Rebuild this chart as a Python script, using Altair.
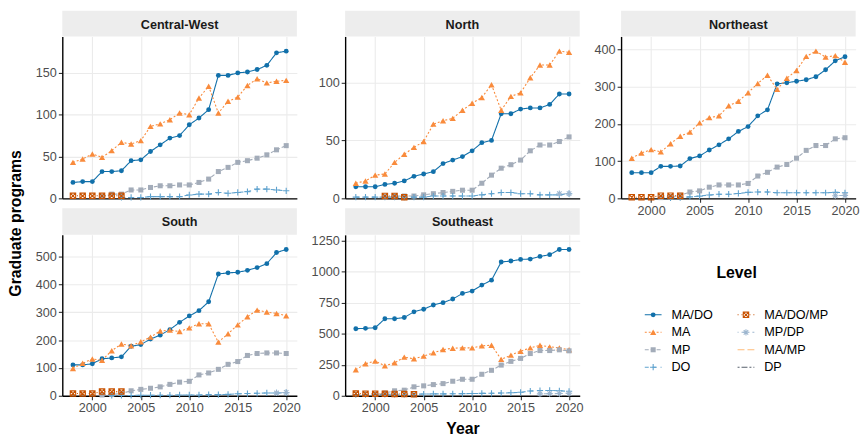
import altair as alt
import pandas as pd

years = list(range(1998, 2021))
levels = ["MA/DO", "MA", "MP", "DO", "MA/DO/MP", "MP/DP", "MA/MP", "DP"]
regions = ["Central-West", "North", "Northeast", "South", "Southeast"]

N_ = None
# Central-West
cw_mado = [19, 20, 20, 32, 32, 33, 45, 46, 56, 64, 72, 75, 88, 96, 106, 147, 147, 150, 151, 154, 159, 174, 176]
cw_ma = [43, 47, 53, 49, 57, 67, 65, 69, 86, 89, 94, 102, 100, 120, 134, 102, 116, 121, 135, 143, 138, 140, 141]
cw_mp = [N_, N_, N_, 2, 5, 5, 10, 10, 13, 15, 15, 16, 16, 19, 23, 32, 37, 43, 45, 48, 52, 58, 63]
cw_do = [N_, N_, N_, N_, N_, 1, 1, 1, 2, 2, 2, 2, 4, 5, 5, 7, 6, 7, 8, 11, 11, 10, 9]
cw_madomp = [3, 3, 3, 3, 3, 3] + [N_] * 17
cw_mpdp = [N_] * 23
# North
n_mado = [10, 10, 10, 12, 13, 15, 19, 21, 23, 30, 33, 36, 41, 48, 50, 73, 73, 77, 78, 78, 81, 90, 90]
n_ma = [13, 15, 20, 21, 31, 38, 44, 49, 64, 67, 69, 76, 82, 87, 98, 76, 88, 91, 104, 115, 115, 127, 126]
n_mp = [N_, N_, N_, 1, 2, 2, 2, 3, 4, 5, 6, 7, 7, 13, 20, 26, 29, 33, 41, 46, 46, 49, 53]
n_do = [1, 1, 1, 1, 1, 1, 1, 1, 2, 2, 2, 2, 2, 3, 4, 5, 5, 4, 4, 3, 3, 3, 4]
n_madomp = [N_, N_, N_, 2, 2, 1] + [N_] * 17
n_mpdp = [N_] * 21 + [4, 4]
# Northeast
ne_mado = [69, 69, 69, 86, 86, 87, 107, 114, 130, 144, 160, 180, 193, 222, 238, 308, 311, 315, 319, 327, 346, 370, 381]
ne_ma = [108, 122, 131, 125, 147, 167, 178, 203, 217, 222, 249, 261, 284, 309, 331, 293, 323, 344, 382, 396, 380, 384, 366]
ne_mp = [N_, N_, N_, 2, 4, 8, 17, 20, 30, 36, 36, 36, 40, 60, 70, 84, 91, 108, 129, 142, 142, 160, 163]
ne_do = [N_, N_, N_, N_, 1, 2, 4, 6, 9, 11, 11, 13, 16, 17, 17, 15, 15, 15, 15, 15, 15, 16, 15]
ne_madomp = [3, 3, 3, 7, 7, 7] + [N_] * 17
ne_mpdp = [N_] * 21 + [7, 8]
# South
s_mado = [111, 111, 115, 133, 136, 140, 178, 184, 204, 218, 238, 264, 287, 306, 338, 438, 442, 444, 451, 461, 475, 515, 526]
s_ma = [98, 117, 132, 128, 162, 186, 180, 194, 211, 233, 236, 231, 244, 259, 259, 193, 223, 255, 284, 308, 301, 296, 288]
s_mp = [N_, N_, N_, 3, 5, 8, 18, 23, 27, 32, 41, 49, 52, 75, 82, 95, 113, 123, 145, 152, 154, 154, 152]
s_do = [N_, N_, N_, N_, 1, 1, 1, 2, 2, 2, 2, 3, 3, 3, 4, 4, 5, 7, 8, 9, 10, 10, 11]
s_madomp = [8, 8, 8, 15, 15, 15] + [N_] * 17
s_mpdp = [N_] * 21 + [10, 12]
# Southeast
se_mado = [540, 543, 548, 620, 620, 630, 676, 697, 731, 750, 779, 824, 843, 891, 931, 1077, 1085, 1098, 1101, 1122, 1136, 1178, 1178]
se_ma = [210, 258, 279, 242, 266, 311, 298, 319, 346, 372, 383, 386, 386, 402, 407, 293, 327, 359, 386, 407, 394, 386, 370]
se_mp = [N_, N_, 10, 22, 40, 45, 72, 80, 90, 98, 117, 133, 133, 173, 205, 247, 277, 301, 340, 364, 364, 370, 362]
se_do = [10, 10, 10, 11, 12, 12, 13, 14, 15, 15, 16, 17, 18, 19, 20, 22, 24, 28, 38, 42, 43, 40, 36]
se_madomp = [18, 17, 17, 16, 15, 14, 12] + [N_] * 16
se_mpdp = [N_] * 19 + [15, 17, 18, 20]

y_ticks = {
    "Central-West": [0, 50, 100, 150],
    "North": [0, 50, 100],
    "Northeast": [0, 100, 200, 300, 400],
    "South": [0, 100, 200, 300, 400, 500],
    "Southeast": [0, 250, 500, 750, 1000, 1250],
}
x_ticks = [2000, 2005, 2010, 2015, 2020]

series = {
    "Central-West": [cw_mado, cw_ma, cw_mp, cw_do, cw_madomp, cw_mpdp],
    "North": [n_mado, n_ma, n_mp, n_do, n_madomp, n_mpdp],
    "Northeast": [ne_mado, ne_ma, ne_mp, ne_do, ne_madomp, ne_mpdp],
    "South": [s_mado, s_ma, s_mp, s_do, s_madomp, s_mpdp],
    "Southeast": [se_mado, se_ma, se_mp, se_do, se_madomp, se_mpdp],
}

rows = []
for reg, lists in series.items():
    for lvl, vals in zip(levels, lists):
        for yr, v in zip(years, vals):
            if v is not None:
                rows.append({"region": reg, "level": lvl, "year": yr, "value": v})
df = pd.DataFrame(rows)

colors = ["#1170aa", "#f98b3c", "#a3acb9", "#5fa2ce", "#c85200", "#9db6cf", "#ffbc79", "#57606c"]
dashes = [[1, 0], [2, 2], [4, 2], [4, 4], [1, 3], [1, 3, 4, 3], [7, 3], [2, 2, 6, 2]]
color_scale = alt.Scale(domain=levels, range=colors)
dash_scale = alt.Scale(domain=levels, range=dashes)

PLUS = "M-1,0L1,0M0,-1L0,1"
SQX = "M-1,-1L1,-1L1,1L-1,1Z M-1,-1L1,1M-1,1L1,-1"
STAR = "M-1,0L1,0M0,-1L0,1M-0.72,-0.72L0.72,0.72M-0.72,0.72L0.72,-0.72"
markers = [
    ("MA/DO", "circle", True, 24),
    ("MA", "triangle-up", True, 40),
    ("MP", "square", True, 26),
    ("DO", PLUS, False, 40),
    ("MA/DO/MP", SQX, False, 30),
    ("MP/DP", STAR, False, 40),
]
mcolor = dict(zip(levels, colors))

W = 237.6
FONT = "Liberation Sans"


def panel(region, h_strip, h_plot, xlabels, xtitle):
    d = df[df.region == region]
    ymax = d["value"].max() * 1.1
    xax = alt.Axis(values=x_ticks, format="d", labels=xlabels, ticks=xlabels,
                   title=xtitle if xtitle else None)
    x = alt.X("year:Q", scale=alt.Scale(domain=[1996.9, 2021.1], nice=False, zero=False), axis=xax)
    y = alt.Y("value:Q", scale=alt.Scale(domain=[0, ymax], nice=False),
              axis=alt.Axis(values=y_ticks[region], format="d", title=None))
    base = alt.Chart(d)
    sdf = pd.DataFrame({"region": [region]})
    strip_rect = alt.Chart(sdf).mark_rect(color="#ededed").encode(
        x=alt.value(0), x2=alt.value(W), y=alt.value(-h_strip), y2=alt.value(0))
    strip_text = alt.Chart(sdf).mark_text(
        fontWeight="bold", fontSize=12.8, color="#1a1a1a", font=FONT, baseline="middle").encode(
        x=alt.value(W / 2), y=alt.value(-h_strip / 2 + 1), text="region:N")
    lines = base.mark_line(strokeWidth=1.1).encode(
        x=x, y=y,
        color=alt.Color("level:N", scale=color_scale, legend=None),
        strokeDash=alt.StrokeDash("level:N", scale=dash_scale, legend=None),
    )
    layers = [lines]
    for lvl, shp, filled, size in markers:
        if (d.level == lvl).any():
            layers.append(
                base.transform_filter(alt.datum.level == lvl)
                .mark_point(shape=shp, filled=filled, color=mcolor[lvl], size=size,
                            strokeWidth=1.1, opacity=1)
                .encode(x=x, y=y)
            )
    return alt.layer(*layers, strip_rect, strip_text).properties(width=W, height=h_plot)


# Manual legend
LW, LH = 240, 163
leg = pd.DataFrame({"level": levels})
leg["col"] = [i // 4 for i in range(len(levels))]
leg["row"] = [i % 4 for i in range(len(levels))]
lx_scale = alt.Scale(domain=[0, LW], nice=False, zero=False)
ly_scale = alt.Scale(domain=[0, LH], nice=False, zero=False, reverse=True)
lbase = alt.Chart(leg).transform_calculate(
    x0="datum.col * 94 + 24", x1="datum.col * 94 + 41", xm="datum.col * 94 + 32.5",
    xt="datum.col * 94 + 51", yy="datum.row * 17.7 + 81")
leg_layers = [
    alt.Chart(pd.DataFrame({"t": ["Level"]})).mark_text(
        fontSize=16, fontWeight="bold", font=FONT, color="black").encode(
        x=alt.value(117), y=alt.value(39), text="t:N"),
    lbase.mark_rule(strokeWidth=1.1).encode(
        x=alt.X("x0:Q", scale=lx_scale, axis=None), x2="x1:Q",
        y=alt.Y("yy:Q", scale=ly_scale, axis=None),
        color=alt.Color("level:N", scale=color_scale, legend=None),
        strokeDash=alt.StrokeDash("level:N", scale=dash_scale, legend=None)),
]
for lvl, shp, filled, size in markers:
    leg_layers.append(
        lbase.transform_filter(alt.datum.level == lvl)
        .mark_point(shape=shp, filled=filled, color=mcolor[lvl], size=size, strokeWidth=1.1, opacity=1)
        .encode(x=alt.X("xm:Q", scale=lx_scale, axis=None), y=alt.Y("yy:Q", scale=ly_scale, axis=None)))
leg_layers.append(
    lbase.mark_text(align="left", baseline="middle", fontSize=12.8, font=FONT, color="black").encode(
        x=alt.X("xt:Q", scale=lx_scale, axis=None), y=alt.Y("yy:Q", scale=ly_scale, axis=None),
        text="level:N"))
legend = alt.layer(*leg_layers).properties(width=LW, height=LH)

cw = panel("Central-West", 26, 164, False, None)
no = panel("North", 26, 164, False, None)
ne = panel("Northeast", 26, 164, True, None)
so = panel("South", 27, 163, True, None)
se = panel("Southeast", 27, 163, True, "Year")

chart = alt.concat(
    cw, no, ne, so, se, legend, columns=3, align="each",
    spacing={"row": -9, "column": 9.5},
).resolve_scale(x="independent", y="independent").properties(
    title=alt.TitleParams("Graduate programs", orient="left", anchor="middle", fontSize=16,
                          fontWeight="bold", font=FONT, color="black", offset=11),
    padding=0,
).configure_view(stroke=None).configure_axis(
    grid=True, gridColor="#ebebeb", gridWidth=1.1,
    domainColor="black", domainWidth=1.4,
    tickColor="#333333", tickSize=4, tickWidth=1.1,
    labelFont=FONT, labelFontSize=12.8, labelColor="#4d4d4d", labelPadding=2,
    titleFont=FONT, titleFontSize=16, titleFontWeight="bold", titleColor="black", titlePadding=6,
).configure_title(font=FONT)

chart.save("out.html", embed_options={"renderer": "svg", "actions": False})
